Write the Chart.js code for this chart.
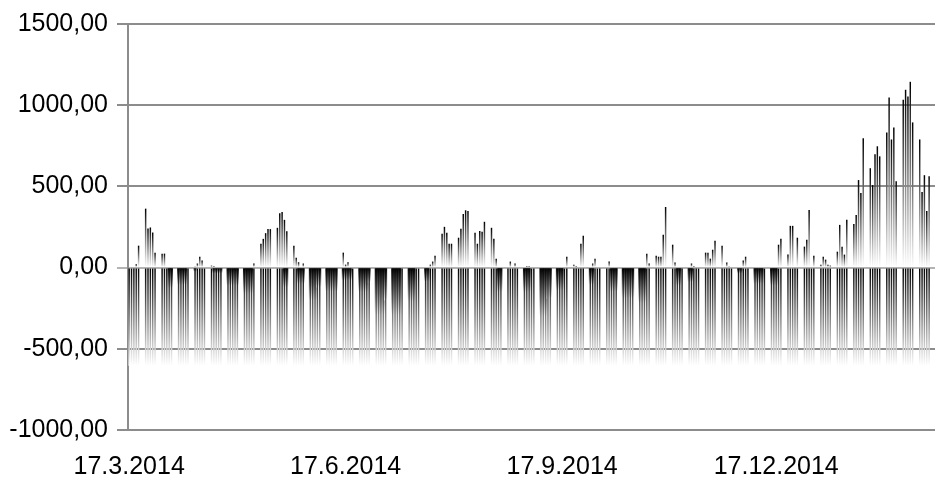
<!DOCTYPE html>
<html>
<head>
<meta charset="utf-8">
<script src="https://cdn.jsdelivr.net/npm/chart.js@4/dist/chart.umd.min.js"></script>
<style>
  body { margin: 0; background: #fff; }
  #wrap { width: 937px; height: 480px; }
</style>
</head>
<body>
<div id="wrap"><canvas id="myChart" width="937" height="480"></canvas></div>
<script>
// daily series, one row per week (Mon..Fri), weekends have no value
const startDate = [2014, 2, 17];
const dayCount = 343;
const tickLabels = ["17.3.2014", "17.6.2014", "17.9.2014", "17.12.2014"];
const yTicks = [-1000, -500, 0, 500, 1000, 1500];

const gainWeeks = [
  [0, 0, 0, 20, 135], [363, 241, 247, 216, 92], [86, 86, 0, 0, 0], [0, 0, 0, 0, 0],
  [8, 25, 67, 43, 0], [12, 3, 0, 0, 0], [0, 0, 0, 0, 0], [0, 0, 0, 0, 25],
  [147, 177, 212, 237, 237], [245, 335, 343, 294, 224], [135, 61, 33, 0, 25], [0, 0, 0, 0, 0],
  [0, 0, 0, 0, 0], [92, 18, 33, 0, 0], [0, 0, 0, 0, 0], [0, 0, 0, 0, 0],
  [0, 0, 0, 0, 0], [0, 0, 0, 0, 0], [0, 0, 18, 37, 73], [208, 251, 214, 147, 147],
  [184, 239, 330, 353, 349], [214, 147, 226, 220, 282], [245, 177, 55, 0, 0], [0, 37, 0, 25, 0],
  [0, 3, 3, 0, 0], [0, 0, 0, 0, 0], [0, 0, 0, 0, 67], [18, 3, 0, 147, 196],
  [0, 25, 55, 0, 0], [0, 37, 0, 0, 0], [0, 0, 0, 0, 0], [0, 0, 0, 86, 25],
  [73, 67, 67, 202, 373], [141, 31, 0, 0, 0], [0, 25, 3, 0, 0], [92, 92, 55, 110, 165],
  [135, 6, 31, 6, 0], [0, 0, 43, 67, 0], [0, 0, 0, 0, 0], [0, 0, 0, 141, 177],
  [80, 257, 257, 0, 184], [129, 171, 355, 0, 73], [18, 67, 49, 18, 12], [98, 263, 128, 80, 294],
  [269, 324, 539, 459, 796], [612, 508, 698, 747, 685], [832, 1047, 789, 863, 532], [1034, 1095, 1053, 1144, 894],
  [789, 465, 569, 349, 563]
];

const lossWeeks = [
  [-605, -605, -605, -605, -605], [-605, -605, -605, -605, -605], [-605, -605, -605, -605, -605], [-605, -605, -605, -605, -605],
  [-605, -605, -605, -605, -605], [-605, -605, -605, -605, -605], [-605, -605, -605, -605, -605], [-605, -605, -605, -605, -605],
  [-605, -605, -605, -605, -605], [-605, -605, -605, -605, -605], [-605, -605, -605, -605, -605], [-605, -605, -605, -605, -605],
  [-605, -605, -605, -605, -605], [-605, -605, -605, -605, -605], [-605, -605, -605, -605, -605], [-605, -605, -605, -605, -605],
  [-605, -605, -605, -605, -605], [-605, -605, -605, -605, -605], [-605, -605, -605, -605, -605], [-605, -605, -605, -605, -605],
  [-605, -605, -605, -605, -605], [-605, -605, -605, -605, -605], [-605, -605, -605, -605, -605], [-605, -605, -605, -605, -605],
  [-605, -605, -605, -605, -605], [-605, -605, -605, -605, -605], [-605, -605, -605, -605, -605], [-605, -605, -605, -605, -605],
  [-605, -605, -605, -605, -605], [-605, -605, -605, -605, -605], [-605, -605, -605, -605, -605], [-605, -605, -605, -605, -605],
  [-605, -605, -605, -605, -605], [-605, -605, -605, -605, -605], [-605, -605, -605, -605, -605], [-605, -605, -605, -605, -605],
  [-605, -605, -605, -605, -605], [-605, -605, -605, -605, -605], [-605, -605, -605, -605, -605], [-605, -605, -605, -605, -605],
  [-605, -605, -605, -605, -605], [-605, -605, -605, -605, -605], [-605, -605, -605, -605, -605], [-605, -605, -605, -605, -605],
  [-605, -605, -605, -605, -605], [-605, -605, -605, -605, -605], [-605, -605, -605, -605, -605], [-605, -605, -605, -605, -605],
  [-605, -605, -605, -605, -605]
];

const shortLossWeeks = [
  [0, 0, 0, 0, 0], [0, 0, 0, 0, 0], [0, 0, 0, -126, -126], [-106, -106, -106, -106, 0],
  [-25, 0, 0, 0, 0], [0, -35, -35, -35, -35], [-110, -110, -110, -110, -110], [-160, -160, -160, -160, 0],
  [0, 0, 0, 0, 0], [0, 0, 0, -120, -120], [0, 0, -100, -100, -100], [-200, -200, -200, -120, -120],
  [-147, -147, -147, -147, -147], [-80, -80, -80, -80, 0], [-150, -150, -150, -150, -90], [-290, -290, -290, -290, -200],
  [-290, -290, -290, -290, 0], [-208, -208, -208, 0, 0], [-86, -86, 0, 0, 0], [0, 0, 0, 0, 0],
  [0, 0, 0, 0, 0], [0, 0, 0, 0, 0], [0, 0, 0, -150, -150], [0, 0, 0, 0, 0],
  [-150, -150, -150, 0, 0], [-300, -300, -300, -190, -190], [-140, -140, -140, 0, 0], [0, 0, 0, 0, 0],
  [-106, -106, 0, 0, 0], [0, 0, -147, -147, -147], [-190, -190, -190, -190, -190], [-220, -220, -220, 0, 0],
  [0, 0, 0, 0, 0], [0, 0, -110, -110, 0], [-90, -90, 0, 0, 0], [0, 0, 0, 0, 0],
  [0, 0, 0, 0, 0], [-35, -35, 0, 0, 0], [-100, -100, -100, -100, 0], [-110, -110, -110, 0, 0],
  [0, 0, 0, 0, 0], [0, 0, 0, 0, 0], [0, 0, 0, 0, 0], [0, 0, 0, 0, 0],
  [0, 0, 0, 0, 0], [0, 0, 0, 0, 0], [0, 0, 0, 0, 0], [0, 0, 0, 0, 0],
  [0, 0, 0, 0, 0]
];

// day labels and daily arrays built from the weekly rows
const labels = [];
const toDaily = (weeks) => {
  const out = [];
  for (let i = 0; i < dayCount; i++) {
    const wd = i % 7;
    const v = wd < 5 ? weeks[Math.floor(i / 7)][wd] : 0;
    out.push(v === 0 ? null : v);
  }
  return out;
};
for (let i = 0; i < dayCount; i++) {
  const d = new Date(startDate[0], startDate[1], startDate[2] + i);
  labels.push(d.getDate() + "." + (d.getMonth() + 1) + "." + d.getFullYear());
}

// black at the top of every bar, fading to white at its bottom
const gradFill = (ctx) => {
  if (ctx.type !== "data") return "#000";
  const v = ctx.raw;
  const ys = ctx.chart.scales.y;
  if (v == null || !ys) return "#000";
  const a = ys.getPixelForValue(Math.max(v, 0));
  const b = ys.getPixelForValue(Math.min(v, 0));
  if (!(b - a > 0.5)) return "#000";
  const g = ctx.chart.ctx.createLinearGradient(0, a, 0, b);
  g.addColorStop(0, "#000");
  g.addColorStop(1, "#fff");
  return g;
};

const font = { family: "'Liberation Sans', Arial, sans-serif", size: 25 };

// dataset 0 is painted last, so the short wide bars go last to sit behind
const data = {
  labels: labels,
  datasets: [
    { label: "gain", data: toDaily(gainWeeks), backgroundColor: gradFill, barPercentage: 0.62, categoryPercentage: 1, grouped: false },
    { label: "loss", data: toDaily(lossWeeks), backgroundColor: gradFill, barPercentage: 0.62, categoryPercentage: 1, grouped: false },
    { label: "short", data: toDaily(shortLossWeeks), backgroundColor: gradFill, barPercentage: 1, categoryPercentage: 1, grouped: false },
  ],
};

const config = {
  type: "bar",
  data: data,
  options: {
    responsive: false,
    animation: false,
    devicePixelRatio: 1,
    layout: { padding: { top: 21, right: 2, left: 0, bottom: 0 } },
    plugins: { legend: { display: false }, tooltip: { enabled: false } },
    scales: {
      x: {
        afterFit: (s) => { s.height = 50; },
        grid: { display: false },
        border: { display: false },
        ticks: {
          autoSkip: false,
          maxRotation: 0,
          padding: 14,
          color: "#000",
          font: font,
          callback: function (val, i) {
            const l = labels[i];
            return tickLabels.includes(l) ? l : null;
          },
        },
      },
      y: {
        z: 1,
        min: yTicks[0],
        max: yTicks[yTicks.length - 1],
        afterFit: (s) => { s.width = 128; },
        afterBuildTicks: (s) => { s.ticks = yTicks.map((v) => ({ value: v })); },
        border: { display: true, color: "#8c8c8c", width: 2 },
        grid: {
          color: (c) => (c.tick && c.tick.value === 0 ? "#b3b3b3" : "#8c8c8c"),
          lineWidth: 2,
          tickLength: 11,
        },
        ticks: {
          padding: 9,
          color: "#000",
          font: font,
          callback: (v) => v.toFixed(2).replace(".", ","),
        },
      },
    },
  },
};

const myChart = new Chart(document.getElementById("myChart"), config);
</script>
</body>
</html>
